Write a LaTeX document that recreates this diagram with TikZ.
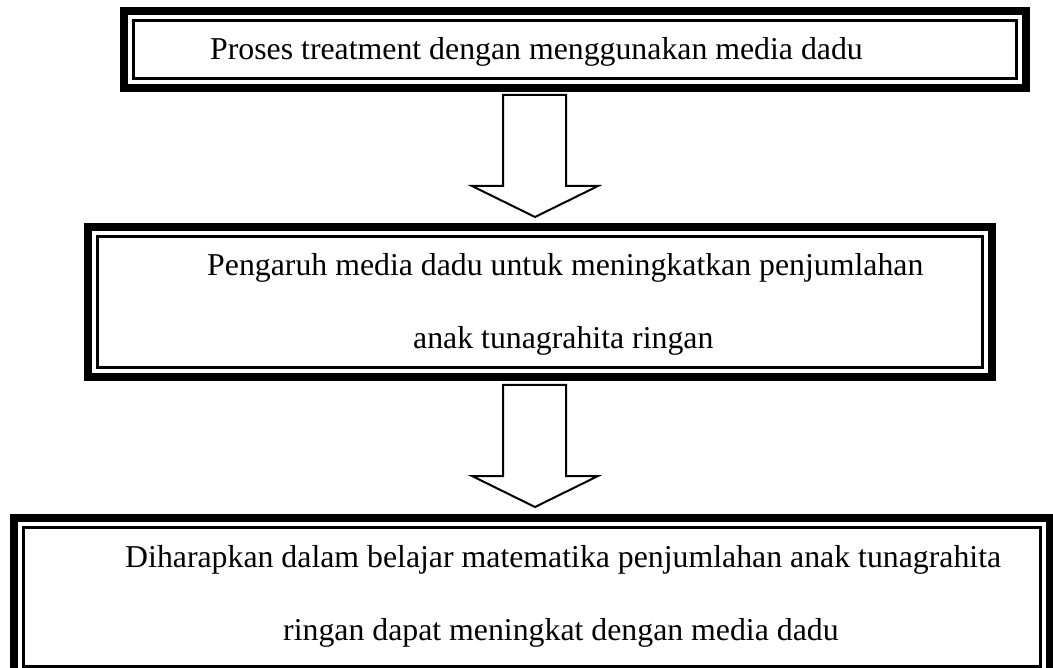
\documentclass[tikz,border=0pt]{standalone}
\usepackage{fontspec}
\setmainfont{Liberation Serif}
\usetikzlibrary{positioning}

\tikzset{
  frame/.style={draw, line width=3pt, inner sep=0pt, anchor=north west},
  textline/.style={anchor=base west, inner sep=0pt, font=\fontsize{31.8}{38}\selectfont},
  hollow arrow/.style={draw, line width=2pt, line join=miter},
}
% thick outer border round a framed node
\newcommand{\outerframe}[1]{\draw[line width=8pt] ([shift={(-8pt,8pt)}]#1.north west) rectangle ([shift={(8pt,-8pt)}]#1.south east);}
% hollow down arrow: top, base of head, tip
\newcommand{\flowarrow}[3]{\path[hollow arrow] (503,#1) -- (566,#1) -- (566,#2) -- (598,#2) -- (535,#3) -- (472,#2) -- (503,#2) -- cycle;}

\begin{document}
\begin{tikzpicture}[x=1pt,y=-1pt]
  \useasboundingbox (0,0) rectangle (1053,668);

  % Boxes
  \node[frame, minimum width=883.5pt, minimum height=57.5pt] (box1) at (131.5,19.5) {};
  \node[frame, minimum width=885pt, minimum height=130.5pt] (box2) at (95.5,235.5) {};
  \node[frame, minimum width=1016.5pt, minimum height=138.5pt] (box3) at (22,526) {};
  \outerframe{box1}
  \outerframe{box2}
  \outerframe{box3}

  % Texts
  \node[textline] (t1) at (210,60) {Proses treatment dengan menggunakan media dadu};
  \node[textline] (t2a) at (207,276) {Pengaruh media dadu untuk meningkatkan penjumlahan};
  \node[textline] (t2b) at (413,349) {anak tunagrahita ringan};
  \node[textline] (t3a) at (125,567) {Diharapkan dalam belajar matematika penjumlahan anak tunagrahita};
  \node[textline] (t3b) at (283,640) {ringan dapat meningkat dengan media dadu};

  % Arrows
  \flowarrow{95}{186}{217}
  \flowarrow{385}{476}{507}
\end{tikzpicture}
\end{document}
